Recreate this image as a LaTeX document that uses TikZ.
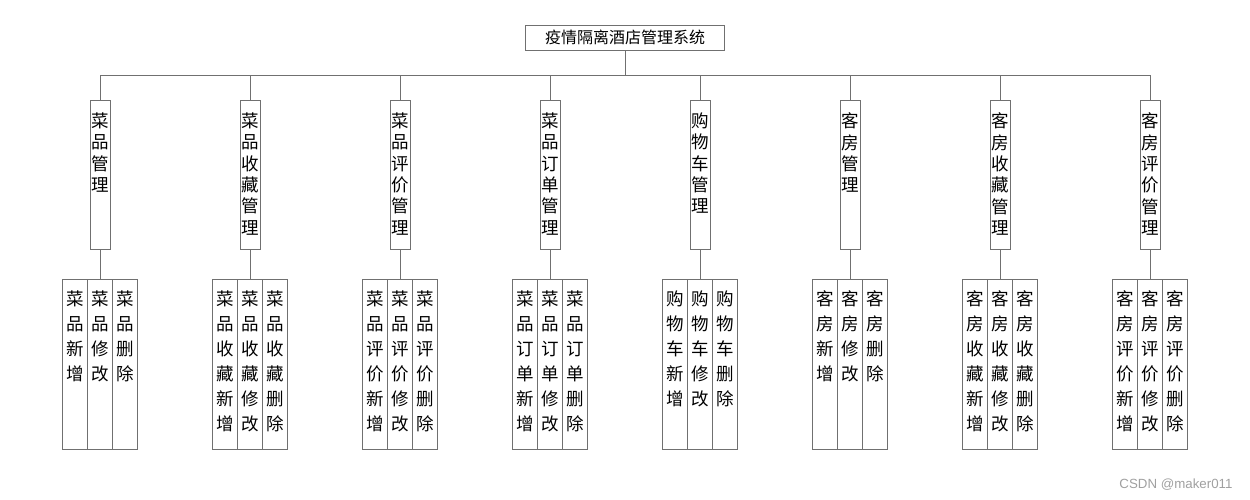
\documentclass[tikz,border=0pt]{standalone}
\usepackage{fontspec}
\newfontfamily\cjk{Noto Sans CJK SC}
\newfontfamily\wmfont{Liberation Sans}
\usetikzlibrary{positioning}
\definecolor{linegray}{RGB}{112,112,112}
\definecolor{markgray}{RGB}{160,160,160}
% stack the characters of a label one below the other
\def\vstack#1#2{\edef\vstacktmp{#1#2}\expandafter\vstackloop\vstacktmp\relax}
\def\vstackloop#1{\ifx#1\relax\else#1\par\expandafter\vstackloop\fi}
\begin{document}
\begin{tikzpicture}[x=1pt,y=-1pt,
      titlebox/.style={
         draw=linegray,
         line width=0.8pt,
         minimum width=199pt,
         minimum height=25pt,
         inner sep=0pt,
         font=\cjk\fontsize{16}{18}\selectfont},
      modbox/.style={
         draw=linegray,
         line width=0.8pt,
         inner sep=0pt,
         outer sep=0pt,
         font=\cjk\fontsize{17.5}{21.3}\selectfont},
      leafbox/.style={
         draw=linegray,
         line width=0.8pt,
         inner sep=0pt,
         outer sep=0pt,
         font=\cjk\fontsize{17.5}{25}\selectfont},
      link/.style={draw=linegray,line width=0.8pt}
      ]
      \useasboundingbox (0,0) rectangle (1250,500);
      \node[titlebox] (title) at (625,37.5) {疫情隔离酒店管理系统};
      \coordinate (bus) at (625,75);
      \draw[link] (title) -- (bus);

    \foreach \i/\p in {% number/name
      1/菜品,
      2/菜品收藏,
      3/菜品评价,
      4/菜品订单,
      5/购物车,
      6/客房,
      7/客房收藏,
      8/客房评价}{
      \pgfmathsetmacro\x{100+150*(\i-1)}
      \node[modbox] (mgr\i) at (\x,174.5)
         {\parbox[t][149pt][t]{20pt}{\centering\vspace*{13pt}\vstack{\p}{管理}}};
      \node[leafbox] (edit\i) at (\x,364)
         {\parbox[t][170pt][t]{25pt}{\centering\vspace*{11.5pt}\vstack{\p}{修改}}};
      \node[leafbox,left=0pt of edit\i] (add\i)
         {\parbox[t][170pt][t]{25pt}{\centering\vspace*{11.5pt}\vstack{\p}{新增}}};
      \node[leafbox,right=0pt of edit\i] (del\i)
         {\parbox[t][170pt][t]{25pt}{\centering\vspace*{11.5pt}\vstack{\p}{删除}}};
      \draw[link] (bus) -| (mgr\i);
      \draw[link] (mgr\i) -- (edit\i);
    }

      \node[anchor=east,text=markgray,font=\wmfont\fontsize{13.3}{15}\selectfont] (mark) at (1236,485) {CSDN @maker011};
\end{tikzpicture}
\end{document}
